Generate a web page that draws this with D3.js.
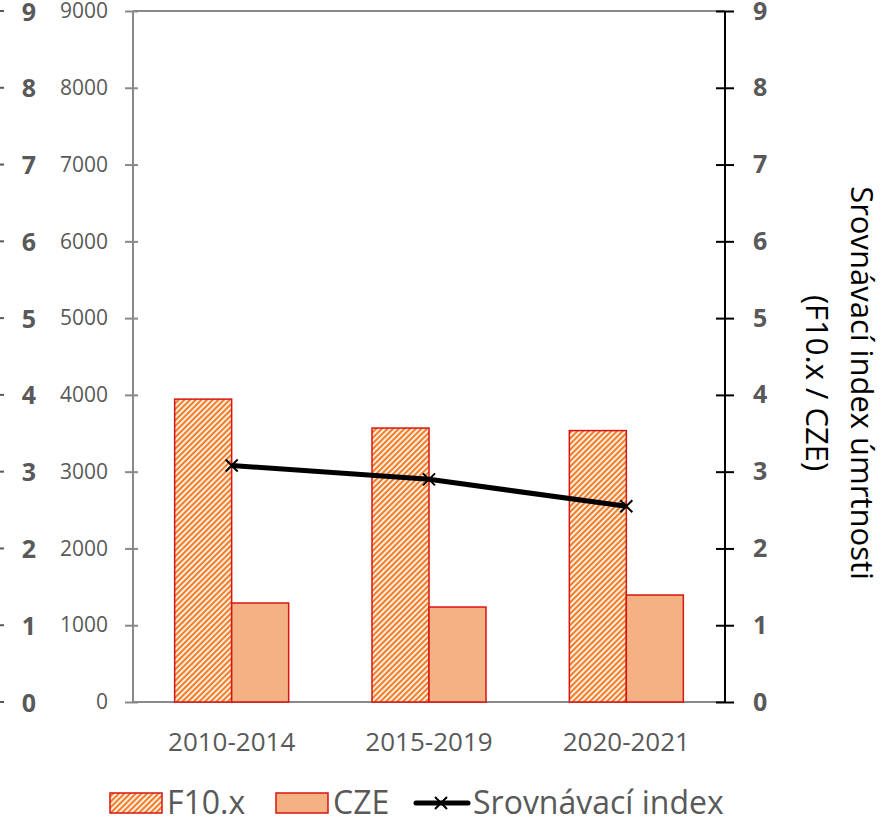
<!DOCTYPE html>
<html><head><meta charset="utf-8">
<script src="https://cdn.jsdelivr.net/npm/d3@7"></script>
<style>body{margin:0;background:#fff}svg{display:block}</style>
</head><body>
<script>
const categories = ["2010-2014","2015-2019","2020-2021"];
const f10Values = [3945, 3568, 3535];
const czeValues = [1289, 1237, 1393];
const indexValues = [3.08, 2.90, 2.55];
const leftTicks = [0,1000,2000,3000,4000,5000,6000,7000,8000,9000];
const rightTicks = [0,1,2,3,4,5,6,7,8,9];
const seriesNames = ["F10.x","CZE","Srovnávací index"];
const rightTitle = ["Srovnávací index úmrtnosti","(F10.x / CZE)"];

const W=884,H=821;
const svg=d3.select("body").append("svg").attr("width",W).attr("height",H);
const font="'Open Sans','Noto Sans',sans-serif";
const defs=svg.append("defs");
const pat=defs.append("pattern").attr("id","hatch").attr("patternUnits","userSpaceOnUse")
 .attr("width",4).attr("height",4).attr("patternTransform","rotate(45)");
pat.append("rect").attr("width",4).attr("height",4).attr("fill","#fff");
pat.append("rect").attr("x",0).attr("width",2.3).attr("height",4).attr("fill","#F07F2A");

const L=133,R=725,T=11,B=702;
const x=d3.scaleBand().domain(categories).range([L,R]);
const y=d3.scaleLinear().domain([0,9000]).range([B,T]);
const y2=d3.scaleLinear().domain([0,9]).range([B,T]);
const bw=57;

// top and bottom frame lines
svg.append("line").attr("x1",L).attr("x2",R).attr("y1",T).attr("y2",T).attr("stroke","#898989").attr("stroke-width",2);
svg.append("line").attr("x1",L).attr("x2",R).attr("y1",B).attr("y2",B).attr("stroke","#898989").attr("stroke-width",2);

// bars
svg.append("g").selectAll("rect").data(categories).join("rect")
 .attr("x",d=>x(d)+x.bandwidth()/2-bw).attr("width",bw)
 .attr("y",(d,i)=>y(f10Values[i])).attr("height",(d,i)=>B-y(f10Values[i]))
 .attr("fill","url(#hatch)").attr("stroke","#D9150F").attr("stroke-width",1.5);
svg.append("g").selectAll("rect").data(categories).join("rect")
 .attr("x",d=>x(d)+x.bandwidth()/2).attr("width",bw)
 .attr("y",(d,i)=>y(czeValues[i])).attr("height",(d,i)=>B-y(czeValues[i]))
 .attr("fill","#F4B183").attr("stroke","#D9150F").attr("stroke-width",1.5);

// left axis
const la=svg.append("g").attr("transform",`translate(${L},0)`)
 .call(d3.axisLeft(y).tickValues(leftTicks).tickSize(8).tickFormat(d3.format("d")));
la.select(".domain").remove();
la.append("line").attr("y1",T).attr("y2",B).attr("stroke","#898989").attr("stroke-width",2);
la.selectAll(".tick line").attr("stroke","#898989").attr("stroke-width",2).attr("x2",-8).attr("x1",5);
la.selectAll(".tick text").attr("x",-25).attr("fill","#595959").style("font-family",font).style("font-size","21px");

// far-left bold axis
const fa=svg.append("g").selectAll("g").data(rightTicks).join("g").attr("transform",d=>`translate(0,${y2(d)})`);
fa.append("line").attr("x1",0).attr("x2",4).attr("stroke","#595959").attr("stroke-width",2);
fa.append("text").attr("x",29).attr("dy","0.38em").attr("text-anchor","middle").attr("fill","#595959")
 .style("font-family",font).style("font-size","25px").style("font-weight","bold").text(d=>d);

// right axis
const ra=svg.append("g").attr("transform",`translate(${R},0)`)
 .call(d3.axisRight(y2).tickValues(rightTicks).tickSize(9).tickFormat(d3.format("d")));
ra.select(".domain").remove();
ra.append("line").attr("y1",T).attr("y2",B).attr("stroke","#000").attr("stroke-width",2);
ra.selectAll(".tick line").attr("stroke","#000").attr("stroke-width",2).attr("x1",-9);
ra.selectAll(".tick text").attr("x",28).attr("fill","#595959").style("font-family",font).style("font-size","25px").style("font-weight","bold");

// x labels
svg.append("g").selectAll("text").data(categories).join("text")
 .attr("x",d=>x(d)+x.bandwidth()/2).attr("y",751).attr("text-anchor","middle")
 .attr("fill","#595959").style("font-family",font).style("font-size","26px").text(d=>d);

// line
const lineGen=d3.line().x((d,i)=>x(categories[i])+x.bandwidth()/2).y(d=>y2(d));
svg.append("path").datum(indexValues).attr("d",lineGen).attr("fill","none").attr("stroke","#000").attr("stroke-width",5);
const xm=(g,s)=>g.append("path").attr("d",`M${-s},${-s}L${s},${s}M${-s},${s}L${s},${-s}`).attr("stroke","#000").attr("stroke-width",2);
svg.append("g").selectAll("g").data(indexValues).join("g")
 .attr("transform",(d,i)=>`translate(${x(categories[i])+x.bandwidth()/2},${y2(d)})`)
 .each(function(){xm(d3.select(this),6);});

// right title
const rt=svg.append("text").attr("transform","translate(0,383) rotate(90)").attr("text-anchor","middle")
 .attr("fill","#000").style("font-family",font).style("font-size","31px");
rt.append("tspan").attr("x",0).attr("y",-851).text(rightTitle[0]);
rt.append("tspan").attr("x",0).attr("y",-806).text(rightTitle[1]);

// legend
const lg=svg.append("g").style("font-family",font).style("font-size","32px").attr("fill","#595959");
lg.append("rect").attr("x",110).attr("y",793).attr("width",52).attr("height",20).attr("fill","url(#hatch)").attr("stroke","#D9150F").attr("stroke-width",1.5);
lg.append("text").attr("x",167).attr("y",814).text(seriesNames[0]);
lg.append("rect").attr("x",276).attr("y",793).attr("width",52).attr("height",20).attr("fill","#F4B183").attr("stroke","#D9150F").attr("stroke-width",1.5);
lg.append("text").attr("x",333).attr("y",814).text(seriesNames[1]);
lg.append("line").attr("x1",416).attr("x2",468).attr("y1",803).attr("y2",803).attr("stroke","#000").attr("stroke-width",5).attr("stroke-linecap","round");
xm(lg.append("g").attr("transform","translate(441,803)"),6);
lg.append("text").attr("x",473).attr("y",814).text(seriesNames[2]);
</script>
</body></html>
